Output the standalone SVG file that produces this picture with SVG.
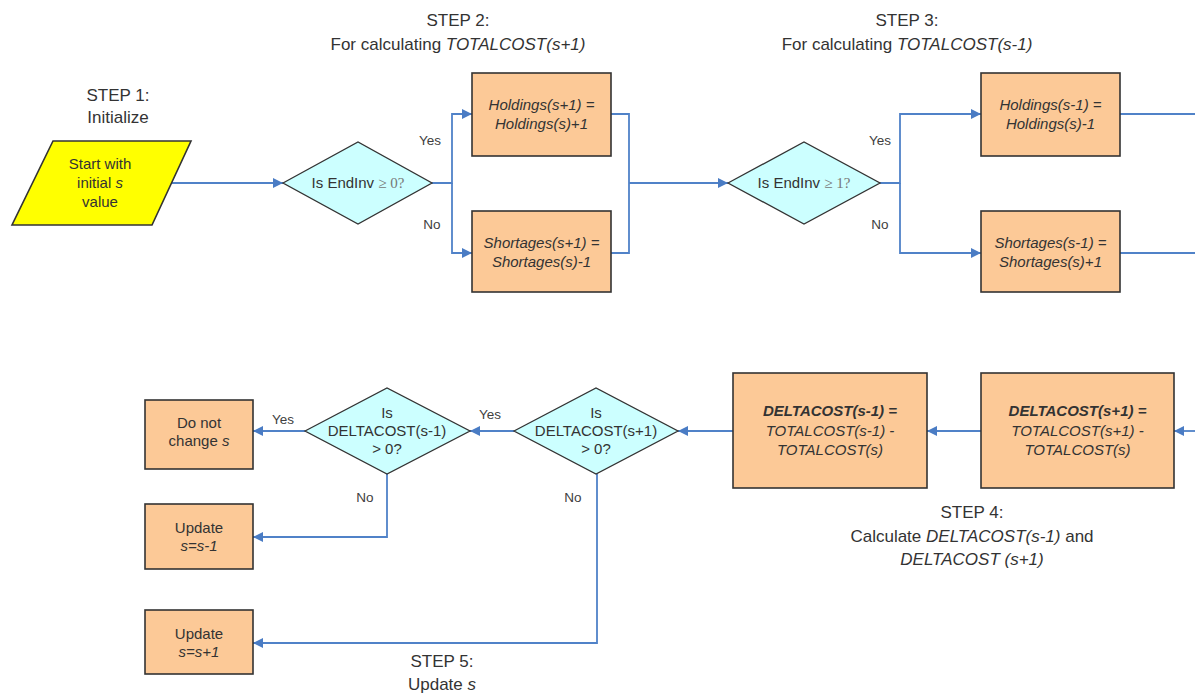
<svg xmlns="http://www.w3.org/2000/svg" width="1195" height="695" viewBox="0 0 1195 695">
<style>
.bg{fill:#ffffff}
.box{fill:#FCC997;stroke:#333333;stroke-width:1.6}
.dia{fill:#CCFFFF;stroke:#333333;stroke-width:1.3}
.io{fill:#FFFF00;stroke:#333333;stroke-width:1.6}
.t{font-family:"Liberation Sans",Arial,sans-serif;font-size:15px;fill:#333333;text-anchor:middle}
.i{font-style:italic}
.b{font-weight:bold}
.title{font-family:"Liberation Sans",Arial,sans-serif;font-size:17px;fill:#333333;text-anchor:middle}
.lbl{font-family:"Liberation Sans",Arial,sans-serif;font-size:13.5px;fill:#404040;text-anchor:middle}
.c{fill:none;stroke:#5082C8;stroke-width:1.8}
.ser{font-family:"Liberation Serif","DejaVu Serif",serif;fill:#777777}
</style>
<defs>
<marker id="arr" viewBox="0 0 10 10" refX="10" refY="5" markerWidth="11" markerHeight="10" markerUnits="userSpaceOnUse" orient="auto">
<path d="M0,0 L10,5 L0,10 z" fill="#4A7CC4"/>
</marker>
</defs>
<rect class="bg" x="0" y="0" width="1195" height="695"/>

<g id="titles">
<text class="title" x="118" y="101">STEP 1:</text>
<text class="title" x="118" y="123">Initialize</text>
<text class="title" x="458" y="26">STEP 2:</text>
<text class="title" x="458" y="50">For calculating <tspan font-style="italic">TOTALCOST(s+1)</tspan></text>
<text class="title" x="907" y="26">STEP 3:</text>
<text class="title" x="907" y="50">For calculating <tspan font-style="italic">TOTALCOST(s-1)</tspan></text>
<text class="title" x="972" y="518">STEP 4:</text>
<text class="title" x="972" y="542">Calculate <tspan font-style="italic">DELTACOST(s-1)</tspan> and</text>
<text class="title" x="972" y="565"><tspan font-style="italic">DELTACOST (s+1)</tspan></text>
<text class="title" x="442" y="667">STEP 5:</text>
<text class="title" x="442" y="690">Update <tspan font-style="italic">s</tspan></text>
</g>

<g id="connectors">
<path class="c" d="M170,183 H283" marker-end="url(#arr)"/>
<path class="c" d="M432,183 H452 V114 H472" marker-end="url(#arr)"/>
<path class="c" d="M452,183 V253 H472" marker-end="url(#arr)"/>
<path class="c" d="M611,114 H629 V253 H611"/>
<path class="c" d="M629,183 H728" marker-end="url(#arr)"/>
<path class="c" d="M880,183 H900 V114 H981" marker-end="url(#arr)"/>
<path class="c" d="M900,183 V253 H981" marker-end="url(#arr)"/>
<path class="c" d="M1120,114 H1195"/>
<path class="c" d="M1120,253 H1195"/>
<path class="c" d="M1195,431 H1174" marker-end="url(#arr)"/>
<path class="c" d="M981,431 H927" marker-end="url(#arr)"/>
<path class="c" d="M733,431 H678" marker-end="url(#arr)"/>
<path class="c" d="M514,431 H470" marker-end="url(#arr)"/>
<path class="c" d="M305,431 H253" marker-end="url(#arr)"/>
<path class="c" d="M387,474 V537 H253" marker-end="url(#arr)"/>
<path class="c" d="M597,474 V643 H253" marker-end="url(#arr)"/>
</g>

<g id="edge-labels">
<text class="lbl" x="430" y="145">Yes</text>
<text class="lbl" x="432" y="229">No</text>
<text class="lbl" x="880" y="145">Yes</text>
<text class="lbl" x="880" y="229">No</text>
<text class="lbl" x="283" y="424">Yes</text>
<text class="lbl" x="490" y="419">Yes</text>
<text class="lbl" x="365" y="502">No</text>
<text class="lbl" x="573" y="502">No</text>
</g>

<g id="start">
<polygon class="io" points="53,141 191,141 152,225 12,225"/>
<text class="t" x="100" y="169">Start with</text>
<text class="t" x="100" y="188">initial <tspan class="i">s</tspan></text>
<text class="t" x="100" y="207">value</text>
</g>

<g id="d1">
<polygon class="dia" points="283,183 358,142 432,183 358,224"/>
<text class="t" x="358" y="188">Is EndInv <tspan class="ser">≥ 0?</tspan></text>
</g>

<g id="h1">
<rect class="box" x="472" y="73" width="139" height="83"/>
<text class="t i" x="541.5" y="110">Holdings(s+1) =</text>
<text class="t i" x="541.5" y="129">Holdings(s)+1</text>
</g>

<g id="s1">
<rect class="box" x="472" y="211" width="139" height="81"/>
<text class="t i" x="541.5" y="248">Shortages(s+1) =</text>
<text class="t i" x="541.5" y="267">Shortages(s)-1</text>
</g>

<g id="d2">
<polygon class="dia" points="728,183 804,142 880,183 804,224"/>
<text class="t" x="804" y="188">Is EndInv <tspan class="ser">≥ 1?</tspan></text>
</g>

<g id="h2">
<rect class="box" x="981" y="73" width="139" height="83"/>
<text class="t i" x="1050.5" y="110">Holdings(s-1) =</text>
<text class="t i" x="1050.5" y="129">Holdings(s)-1</text>
</g>

<g id="s2">
<rect class="box" x="981" y="211" width="139" height="81"/>
<text class="t i" x="1050.5" y="248">Shortages(s-1) =</text>
<text class="t i" x="1050.5" y="267">Shortages(s)+1</text>
</g>

<g id="dcp">
<rect class="box" x="981" y="373" width="193" height="115"/>
<text class="t i b" x="1077.5" y="416">DELTACOST(s+1) =</text>
<text class="t i" x="1077.5" y="436">TOTALCOST(s+1) -</text>
<text class="t i" x="1077.5" y="455">TOTALCOST(s)</text>
</g>

<g id="dcm">
<rect class="box" x="733" y="373" width="194" height="115"/>
<text class="t i b" x="830" y="416">DELTACOST(s-1) =</text>
<text class="t i" x="830" y="436">TOTALCOST(s-1) -</text>
<text class="t i" x="830" y="455">TOTALCOST(s)</text>
</g>

<g id="d3">
<polygon class="dia" points="514,431 596,388 678,431 596,474"/>
<text class="t" x="596" y="418">Is</text>
<text class="t" x="596" y="436">DELTACOST(s+1)</text>
<text class="t" x="596" y="454">&gt; 0?</text>
</g>

<g id="d4">
<polygon class="dia" points="305,431 387,388 470,431 387,474"/>
<text class="t" x="387" y="418">Is</text>
<text class="t" x="387" y="436">DELTACOST(s-1)</text>
<text class="t" x="387" y="454">&gt; 0?</text>
</g>

<g id="nochange">
<rect class="box" x="145" y="400" width="108" height="69"/>
<text class="t" x="199" y="428">Do not</text>
<text class="t" x="199" y="446">change <tspan class="i">s</tspan></text>
</g>

<g id="upd1">
<rect class="box" x="145" y="504" width="108" height="65"/>
<text class="t" x="199" y="533">Update</text>
<text class="t i" x="199" y="551">s=s-1</text>
</g>

<g id="upd2">
<rect class="box" x="145" y="610" width="108" height="64"/>
<text class="t" x="199" y="639">Update</text>
<text class="t i" x="199" y="657">s=s+1</text>
</g>
</svg>
